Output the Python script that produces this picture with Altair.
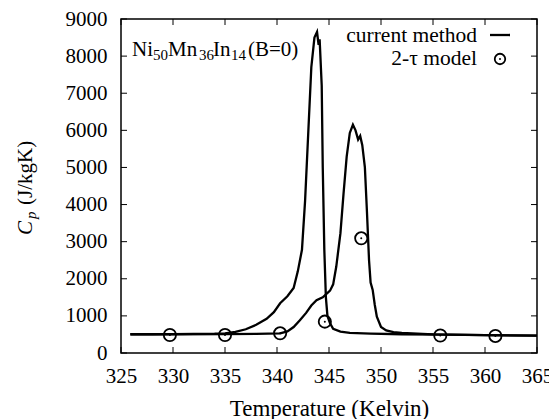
import altair as alt
import pandas as pd

# ---- data ----
cool_T = [325.9, 328, 330, 332, 334, 335, 336, 337, 338, 339, 339.7, 340.3, 341, 341.6, 342.0, 342.4,
          342.7, 343.0, 343.3, 343.6, 343.85, 344.0, 344.1, 344.3, 344.4, 344.55, 344.7, 344.85, 345.1,
          345.4, 346.1, 347, 349, 352, 356, 360, 365]
cool_Cp = [505, 505, 510, 515, 520, 530, 570, 640, 760, 920, 1100, 1340, 1530, 1750, 2200, 2780,
           4100, 5900, 7700, 8500, 8650, 8300, 8450, 7200, 5000, 2780, 1500, 1000, 800,
           650, 575, 540, 520, 505, 495, 480, 470]

heat_T = [325.9, 330, 335, 338, 340.3, 341, 341.6, 342.2, 342.8, 343.3, 343.8, 344.4, 345.1, 345.4,
          345.7, 346.1, 346.4, 346.7, 347.0, 347.3, 347.55, 347.8, 348.0, 348.2, 348.45, 348.65, 348.85,
          349.0, 349.2, 349.4, 349.6, 350.0, 350.5, 351.2, 352, 355, 360, 365]
heat_Cp = [505, 505, 510, 515, 530, 580, 700, 880, 1080, 1280, 1420, 1500, 1680, 1850,
           2330, 3230, 4300, 5290, 5930, 6150, 6000, 5750, 5850, 5600, 5000, 3800, 2500,
           1900, 1700, 1300, 980, 700, 610, 560, 540, 500, 480, 470]

model_T = [329.7, 335.0, 340.3, 344.6, 348.1, 355.7, 361.0]
model_Cp = [485, 485, 530, 845, 3090, 470, 460]

x_ticks = [325, 330, 335, 340, 345, 350, 355, 360, 365]
y_ticks = [0, 1000, 2000, 3000, 4000, 5000, 6000, 7000, 8000, 9000]

FONT = "Liberation Serif"
W, H = 416, 334

lines_df = pd.DataFrame({
    "T": cool_T + heat_T,
    "Cp": cool_Cp + heat_Cp,
    "run": ["cool"] * len(cool_T) + ["heat"] * len(heat_T),
})
model_df = pd.DataFrame({"T": model_T, "Cp": model_Cp})

xs = alt.Scale(domain=[325, 365], nice=False, zero=False)
ys = alt.Scale(domain=[0, 9000], nice=False, zero=False)

x_axis = alt.Axis(values=x_ticks, format="d", tickSize=0, domain=False, grid=False, labelFont=FONT,
                  labelFontSize=21, labelColor="black", labelPadding=12, labelOverlap=False,
                  labelFlush=False, title="Temperature (Kelvin)", titleFont=FONT, titleFontSize=23,
                  titleFontWeight="normal", titleColor="black", titlePadding=11)
y_axis = alt.Axis(values=y_ticks, format="d", tickSize=0, domain=False, grid=False, labelFont=FONT,
                  labelFontSize=21, labelColor="black", labelPadding=14, labelOverlap=False,
                  labelFlush=False, title=None)

X = lambda f: alt.X(f, scale=xs, axis=x_axis, title="Temperature (Kelvin)")
Y = lambda f: alt.Y(f, scale=ys, axis=y_axis, title=None)

lines = alt.Chart(lines_df).mark_line(color="black", strokeWidth=2.3).encode(
    x=X("T:Q"), y=Y("Cp:Q"), detail="run:N",
)

circles = alt.Chart(model_df).mark_point(shape="circle", filled=False, color="black",
                                         strokeWidth=1.8, size=150, opacity=1).encode(
    x=X("T:Q"), y=Y("Cp:Q"))
dots = alt.Chart(model_df).mark_point(shape="circle", filled=True, color="black",
                                      size=4, opacity=1).encode(
    x=X("T:Q"), y=Y("Cp:Q"))

# inward ticks on all four sides
xt_df = pd.DataFrame({"T": x_ticks})
yt_df = pd.DataFrame({"Cp": y_ticks})
TL = 6
xt_bottom = alt.Chart(xt_df).mark_rule(color="black", strokeWidth=1).encode(
    x=X("T:Q"), y=alt.value(H), y2=alt.value(H - TL))
xt_top = alt.Chart(xt_df).mark_rule(color="black", strokeWidth=1).encode(
    x=X("T:Q"), y=alt.value(0), y2=alt.value(TL))
yt_left = alt.Chart(yt_df).mark_rule(color="black", strokeWidth=1).encode(
    y=Y("Cp:Q"), x=alt.value(0), x2=alt.value(TL))
yt_right = alt.Chart(yt_df).mark_rule(color="black", strokeWidth=1).encode(
    y=Y("Cp:Q"), x=alt.value(W - TL), x2=alt.value(W))

one = pd.DataFrame({"d": [0]})


def txt(s, x, y, size=21, align="left", angle=0, italic=False, baseline="alphabetic"):
    kw = dict(text=s, font=FONT, fontSize=size, align=align, baseline=baseline,
              color="black", angle=angle)
    if italic:
        kw["fontStyle"] = "italic"
    return alt.Chart(one).mark_text(**kw).encode(x=alt.value(x), y=alt.value(y))


# sample annotation with subscripts
ann = [
    txt("Ni", 11, 37), txt("50", 32, 41, size=15),
    txt("Mn", 47, 37), txt("36", 78, 41, size=15),
    txt("In", 92, 37), txt("14", 110, 41, size=15),
    txt("(B=0)", 127, 37),
]

# legend
legend = [
    txt("current method", 356, 23, align="right", size=21.5),
    alt.Chart(one).mark_rule(color="black", strokeWidth=2.3).encode(
        x=alt.value(369), x2=alt.value(389), y=alt.value(16)),
    txt("2-\u03c4 model", 356, 46, align="right", size=21.5),
    alt.Chart(one).mark_point(shape="circle", filled=False, color="black", strokeWidth=1.8,
                              size=110, opacity=1).encode(x=alt.value(379), y=alt.value(40)),
    alt.Chart(one).mark_point(shape="circle", filled=True, color="black", size=4,
                              opacity=1).encode(x=alt.value(379), y=alt.value(40)),
]

# y-axis title: C_p (J/kgK), rotated
ytitle = [
    txt("C", -89, 216, angle=270, italic=True),
    txt("p", -85, 200, size=15, angle=270, italic=True),
    txt("(J/kgK)", -89, 186, angle=270),
]

chart = alt.layer(
    lines, circles, dots, xt_bottom, xt_top, yt_left, yt_right, *ann, *legend, *ytitle
).properties(
    width=W, height=H,
    autosize=alt.AutoSizeParams(type="none"),
    padding={"left": 113, "top": 11, "right": 12, "bottom": 66},
).configure_view(
    stroke="black", strokeWidth=1.5
).configure_axis(
    labelFont=FONT, titleFont=FONT, labelColor="black", titleColor="black"
)

chart.save("out.html", embed_options={"renderer": "svg", "actions": False})
